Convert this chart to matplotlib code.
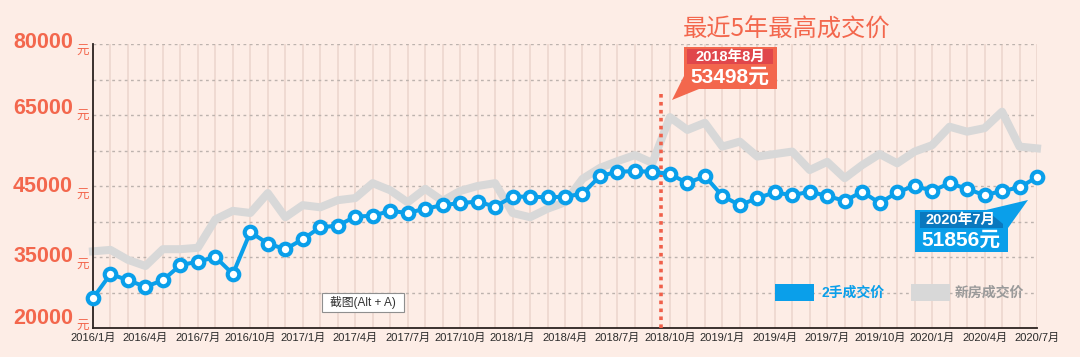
import numpy as np
import matplotlib.pyplot as plt
from matplotlib.patches import Rectangle, Polygon

plt.rcParams['font.family'] = ['Noto Sans CJK SC', 'DejaVu Sans']

# 月度成交价（元/平米），2016/1 ~ 2020/7
second_hand = [26300, 31400, 30100, 28700, 30100, 33300, 34000, 35000, 31400, 38500,
               36900, 36100, 37500, 39200, 39400, 40700, 40800, 41500, 41200, 41800,
               42300, 42600, 42800, 42100, 43500, 43500, 43400, 43500, 43900, 47800,
               49000, 49200, 49000, 48400, 45800, 47800, 43600, 42300, 43300, 44100,
               43700, 44200, 43600, 42900, 44200, 42600, 44100, 45100, 44300, 45800,
               44600, 43700, 44300, 44800, 47500]
new_home = [35800, 36000, 34400, 33100, 36100, 36100, 36300, 40300, 41500, 41200,
            44000, 40600, 42300, 42000, 43000, 43300, 45800, 44400, 42700, 44600,
            42900, 44300, 45000, 45800, 41200, 40600, 41800, 42700, 47000, 50100,
            52000, 53700, 51500, 64400, 60800, 62800, 56100, 57500, 53300, 54000,
            54700, 49500, 51800, 47200, 50900, 54000, 51400, 54700, 56500, 61700,
            60300, 61300, 65700, 56100, 55600]
x_labels = ['2016/1月', '2016/4月', '2016/7月', '2016/10月', '2017/1月', '2017/4月',
            '2017/7月', '2017/10月', '2018/1月', '2018/4月', '2018/7月', '2018/10月',
            '2019/1月', '2019/4月', '2019/7月', '2019/10月', '2020/1月', '2020/4月',
            '2020/7月']
y_tick_values = [20000, 35000, 45000, 65000, 80000]
y_tick_slots = [0, 2, 4, 6, 8]   # 网格行号（原图刻度不是等距的）
peak_label = ('2018年8月', '53498元')
last_label = ('2020年7月', '51856元')
legend_names = ['2手成交价', '新房成交价']
title_text = '最近5年最高成交价'

BG = '#FDEDE6'
RED = '#F3674D'
BLUE = '#0A9FEA'
GRAY = '#D8D8D8'
MIX = ['Liberation Sans', 'Noto Sans CJK SC']
W, H = 1080, 357

# 分段线性的 y 轴
sv = [y_tick_values[0] - 1e6] + y_tick_values + [y_tick_values[-1] + 1e6]
ss = [y_tick_slots[0] - 1e6 * 2 / 15000] + y_tick_slots + [y_tick_slots[-1] + 1e6 * 2 / 15000]

def fwd(v):
    return np.interp(np.asarray(v, float), sv, ss)

def inv(s):
    return np.interp(np.asarray(s, float), ss, sv)


fig = plt.figure(figsize=(W / 100, H / 100), dpi=100)
fig.patch.set_facecolor(BG)
ax = fig.add_axes([93 / W, (H - 328) / H, 944 / W, 284 / H])
ax.set_facecolor(BG)
ax.set_yscale('function', functions=(fwd, inv))

x = np.arange(len(second_hand))
ax.plot(x, new_home, color=GRAY, lw=5.8, solid_joinstyle='round', zorder=2, clip_on=False)
ax.plot(x, second_hand, color=BLUE, lw=2.9, marker='o', ms=8.3, mfc='white', mec=BLUE,
        mew=3, zorder=4, clip_on=False)
ax.axvline(32.5, ymin=0, ymax=(328 - 90) / 284, color='#F0604A', lw=2.6,
           ls=(0, (1, 1.2)), zorder=3)

ax.set_xlim(0, len(second_hand) - 1)
ax.set_ylim(y_tick_values[0], y_tick_values[-1])

# 网格
ax.set_yticks(inv(np.arange(1, 9)))
ax.set_yticklabels([])
ax.yaxis.grid(True, color='#BDB3AE', lw=1, ls=(0, (2, 2.5)))
ax.set_xticks(np.arange(0, len(second_hand), 3))
ax.set_xticklabels(x_labels, fontsize=8, color='#2A2A2A', family=MIX)
ax.set_xticks(x, minor=True)
ax.xaxis.grid(True, which='both', color='#EDD7CF', lw=1.2)
ax.set_axisbelow(True)
ax.tick_params(axis='both', which='both', length=0)
ax.tick_params(axis='x', pad=3.5)
for side in ['top', 'right']:
    ax.spines[side].set_visible(False)
for side in ['left', 'bottom']:
    ax.spines[side].set_color('#2B2320')
    ax.spines[side].set_linewidth(1.3)

# y 轴标签：大数字 + 小“元”
label_dy = [10, 0, -1, 7, 1]
for v, dy in zip(y_tick_values, label_dy):
    ax.annotate(str(v), xy=(0, v), xycoords=('axes fraction', 'data'),
                xytext=(-20, dy), textcoords='offset pixels', ha='right', va='center',
                fontsize=15.5, fontweight='bold', color=RED,
                family=['Liberation Sans', 'DejaVu Sans'], annotation_clip=False)
    ax.annotate('元', xy=(0, v), xycoords=('axes fraction', 'data'),
                xytext=(-17, dy - 8), textcoords='offset pixels', ha='left', va='center',
                fontsize=9, color=RED, annotation_clip=False)


def rect(x0, y0, x1, y1, **kw):
    fig.add_artist(Rectangle((x0 / W, 1 - y1 / H), (x1 - x0) / W, (y1 - y0) / H,
                             transform=fig.transFigure, zorder=5, **kw))


def poly(pts, color):
    fig.add_artist(Polygon([(a / W, 1 - b / H) for a, b in pts], closed=True,
                           transform=fig.transFigure, fc=color, ec='none', zorder=5))


def ftext(xp, yp, s, **kw):
    fig.text(xp / W, 1 - yp / H, s, zorder=6, **kw)


# 标题
ftext(683, 30, title_text, color=RED, fontsize=17.5, fontweight='medium',
      va='center', ha='left')

# 红色标注框
rect(684, 47, 777, 89, fc=RED, ec='none')
rect(687, 49, 773, 64, fc='#E0464B', ec='none')
poly([(684, 76), (699, 89), (672, 100)], RED)
ftext(730, 56.5, peak_label[0], color='white', fontsize=10.5, fontweight='bold',
      ha='center', va='center', family=MIX)
ftext(730, 77, peak_label[1], color='white', fontsize=15, fontweight='bold',
      ha='center', va='center', family=MIX)

# 蓝色标注框
rect(915, 210, 1008, 252, fc=BLUE, ec='none')
rect(920, 212, 1003, 228, fc='#0A78BE', ec='none')
poly([(986, 210), (1008, 228), (1028, 200)], BLUE)
ftext(961, 220, last_label[0], color='white', fontsize=10.5, fontweight='bold',
      ha='center', va='center', family=MIX)
ftext(961, 240.5, last_label[1], color='white', fontsize=15, fontweight='bold',
      ha='center', va='center', family=MIX)

# 图例
rect(775, 284, 814, 301, fc=BLUE, ec='none')
ftext(822, 292.5, legend_names[0], color=BLUE, fontsize=10, fontweight='bold',
      va='center', family=MIX)
rect(911, 284, 950, 301, fc=GRAY, ec='none')
ftext(955, 292.5, legend_names[1], color='#9A9A9A', fontsize=10, fontweight='bold',
      va='center', family=MIX)

# 截图提示框
rect(322, 293, 404, 312, fc='white', ec='#8F8F8F', lw=0.8)
ftext(363, 302.5, '截图(Alt + A)', color='#333333', fontsize=8.5, ha='center',
      va='center', family=MIX)

fig.savefig('out.png', dpi=100, facecolor=BG)
